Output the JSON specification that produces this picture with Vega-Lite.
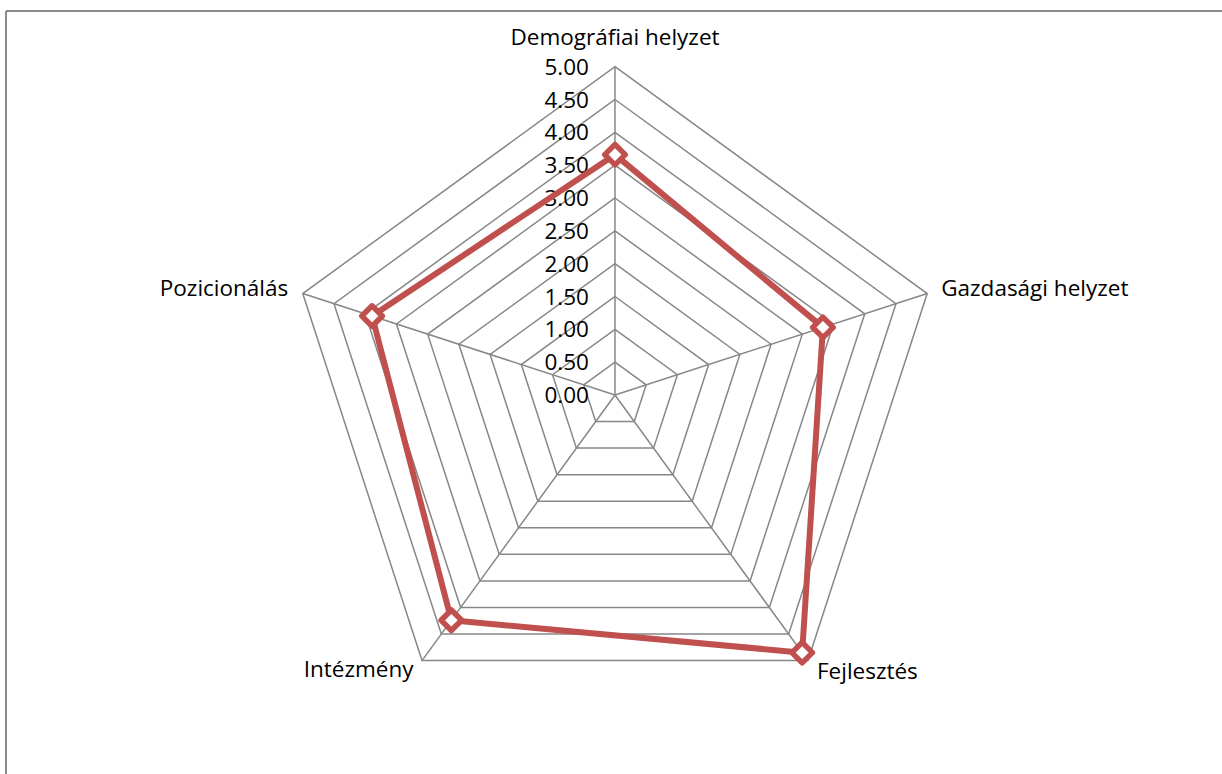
{
  "$schema": "https://vega.github.io/schema/vega-lite/v6.json",
  "width": 1216,
  "height": 763,
  "autosize": {"type": "none"},
  "padding": {"left": 6, "top": 11, "right": 0, "bottom": 0},
  "background": "white",
  "config": {
    "view": {"stroke": "#8c8c8c", "strokeWidth": 2, "strokeDash": [1216, 1979, 763, 0]},
    "text": {"font": "Open Sans", "fontSize": 22.5, "color": "#000000"}
  },
  "datasets": {
    "vals": [
      {"cat": "Demográfiai helyzet", "i": 0, "v": 3.66},
      {"cat": "Gazdasági helyzet", "i": 1, "v": 3.33},
      {"cat": "Fejlesztés", "i": 2, "v": 4.85},
      {"cat": "Intézmény", "i": 3, "v": 4.24},
      {"cat": "Pozicionálás", "i": 4, "v": 3.89}
    ],
    "levels": [
      {"level": 0, "ax": [0, 1, 2, 3, 4]},
      {"level": 0.5, "ax": [0, 1, 2, 3, 4]},
      {"level": 1, "ax": [0, 1, 2, 3, 4]},
      {"level": 1.5, "ax": [0, 1, 2, 3, 4]},
      {"level": 2, "ax": [0, 1, 2, 3, 4]},
      {"level": 2.5, "ax": [0, 1, 2, 3, 4]},
      {"level": 3, "ax": [0, 1, 2, 3, 4]},
      {"level": 3.5, "ax": [0, 1, 2, 3, 4]},
      {"level": 4, "ax": [0, 1, 2, 3, 4]},
      {"level": 4.5, "ax": [0, 1, 2, 3, 4]},
      {"level": 5, "ax": [0, 1, 2, 3, 4]}
    ]
  },
  "layer": [
    {
      "data": {"name": "levels"},
      "transform": [
        {"filter": "datum.level > 0"},
        {"flatten": ["ax"]},
        {"calculate": "datum.level * sin(datum.ax * 2 * PI / 5)", "as": "gx"},
        {"calculate": "datum.level * cos(datum.ax * 2 * PI / 5)", "as": "gy"}
      ],
      "mark": {"type": "line", "interpolate": "linear-closed", "color": "#878787", "strokeWidth": 1.5},
      "encoding": {
        "x": {"field": "gx", "type": "quantitative", "scale": {"domain": [-9.275, 9.245], "nice": false, "zero": false}, "axis": null},
        "y": {"field": "gy", "type": "quantitative", "scale": {"domain": [-5.772, 5.848], "nice": false, "zero": false}, "axis": null},
        "detail": {"field": "level", "type": "quantitative"},
        "order": {"field": "ax", "type": "quantitative"}
      }
    },
    {
      "data": {"name": "vals"},
      "transform": [
        {"calculate": "5 * sin(datum.i * 2 * PI / 5)", "as": "x5"},
        {"calculate": "5 * cos(datum.i * 2 * PI / 5)", "as": "y5"}
      ],
      "mark": {"type": "rule", "color": "#878787", "strokeWidth": 1.5},
      "encoding": {
        "x": {"field": "x5", "type": "quantitative"},
        "y": {"field": "y5", "type": "quantitative"},
        "x2": {"datum": 0},
        "y2": {"datum": 0}
      }
    },
    {
      "data": {"name": "levels"},
      "mark": {"type": "text", "align": "right", "baseline": "middle", "dx": -26, "dy": 1},
      "encoding": {
        "x": {"datum": 0, "type": "quantitative"},
        "y": {"field": "level", "type": "quantitative"},
        "text": {"field": "level", "type": "quantitative", "format": ".2f"}
      }
    },
    {
      "data": {"name": "vals"},
      "transform": [
        {"calculate": "datum.v * sin(datum.i * 2 * PI / 5)", "as": "px"},
        {"calculate": "datum.v * cos(datum.i * 2 * PI / 5)", "as": "py"},
        {"calculate": "5 * sin(datum.i * 2 * PI / 5)", "as": "x5"},
        {"calculate": "5 * cos(datum.i * 2 * PI / 5)", "as": "y5"}
      ],
      "layer": [
        {
          "mark": {"type": "line", "interpolate": "linear-closed", "color": "#C0504D", "strokeWidth": 6, "strokeJoin": "round"},
          "encoding": {
            "x": {"field": "px", "type": "quantitative"},
            "y": {"field": "py", "type": "quantitative"},
            "order": {"field": "i", "type": "quantitative"}
          }
        },
        {
          "mark": {"type": "point", "shape": "diamond", "filled": true, "fill": "white", "stroke": "#C0504D", "strokeWidth": 5.5, "size": 420, "opacity": 1, "strokeJoin": "round"},
          "encoding": {
            "x": {"field": "px", "type": "quantitative"},
            "y": {"field": "py", "type": "quantitative"}
          }
        },
        {
          "transform": [{"filter": "datum.i == 0"}],
          "mark": {"type": "text", "align": "center", "baseline": "alphabetic", "dy": -22},
          "encoding": {
            "x": {"field": "x5", "type": "quantitative"},
            "y": {"field": "y5", "type": "quantitative"},
            "text": {"field": "cat", "type": "nominal"}
          }
        },
        {
          "transform": [{"filter": "datum.i == 1"}],
          "mark": {"type": "text", "align": "left", "baseline": "alphabetic", "dx": 14, "dy": 2.5},
          "encoding": {
            "x": {"field": "x5", "type": "quantitative"},
            "y": {"field": "y5", "type": "quantitative"},
            "text": {"field": "cat", "type": "nominal"}
          }
        },
        {
          "transform": [{"filter": "datum.i == 2"}],
          "mark": {"type": "text", "align": "left", "baseline": "alphabetic", "dx": 9, "dy": 18.6},
          "encoding": {
            "x": {"field": "x5", "type": "quantitative"},
            "y": {"field": "y5", "type": "quantitative"},
            "text": {"field": "cat", "type": "nominal"}
          }
        },
        {
          "transform": [{"filter": "datum.i == 3"}],
          "mark": {"type": "text", "align": "right", "baseline": "alphabetic", "dx": -8.5, "dy": 16.6},
          "encoding": {
            "x": {"field": "x5", "type": "quantitative"},
            "y": {"field": "y5", "type": "quantitative"},
            "text": {"field": "cat", "type": "nominal"}
          }
        },
        {
          "transform": [{"filter": "datum.i == 4"}],
          "mark": {"type": "text", "align": "right", "baseline": "alphabetic", "dx": -14.5, "dy": 2},
          "encoding": {
            "x": {"field": "x5", "type": "quantitative"},
            "y": {"field": "y5", "type": "quantitative"},
            "text": {"field": "cat", "type": "nominal"}
          }
        }
      ]
    }
  ]
}
